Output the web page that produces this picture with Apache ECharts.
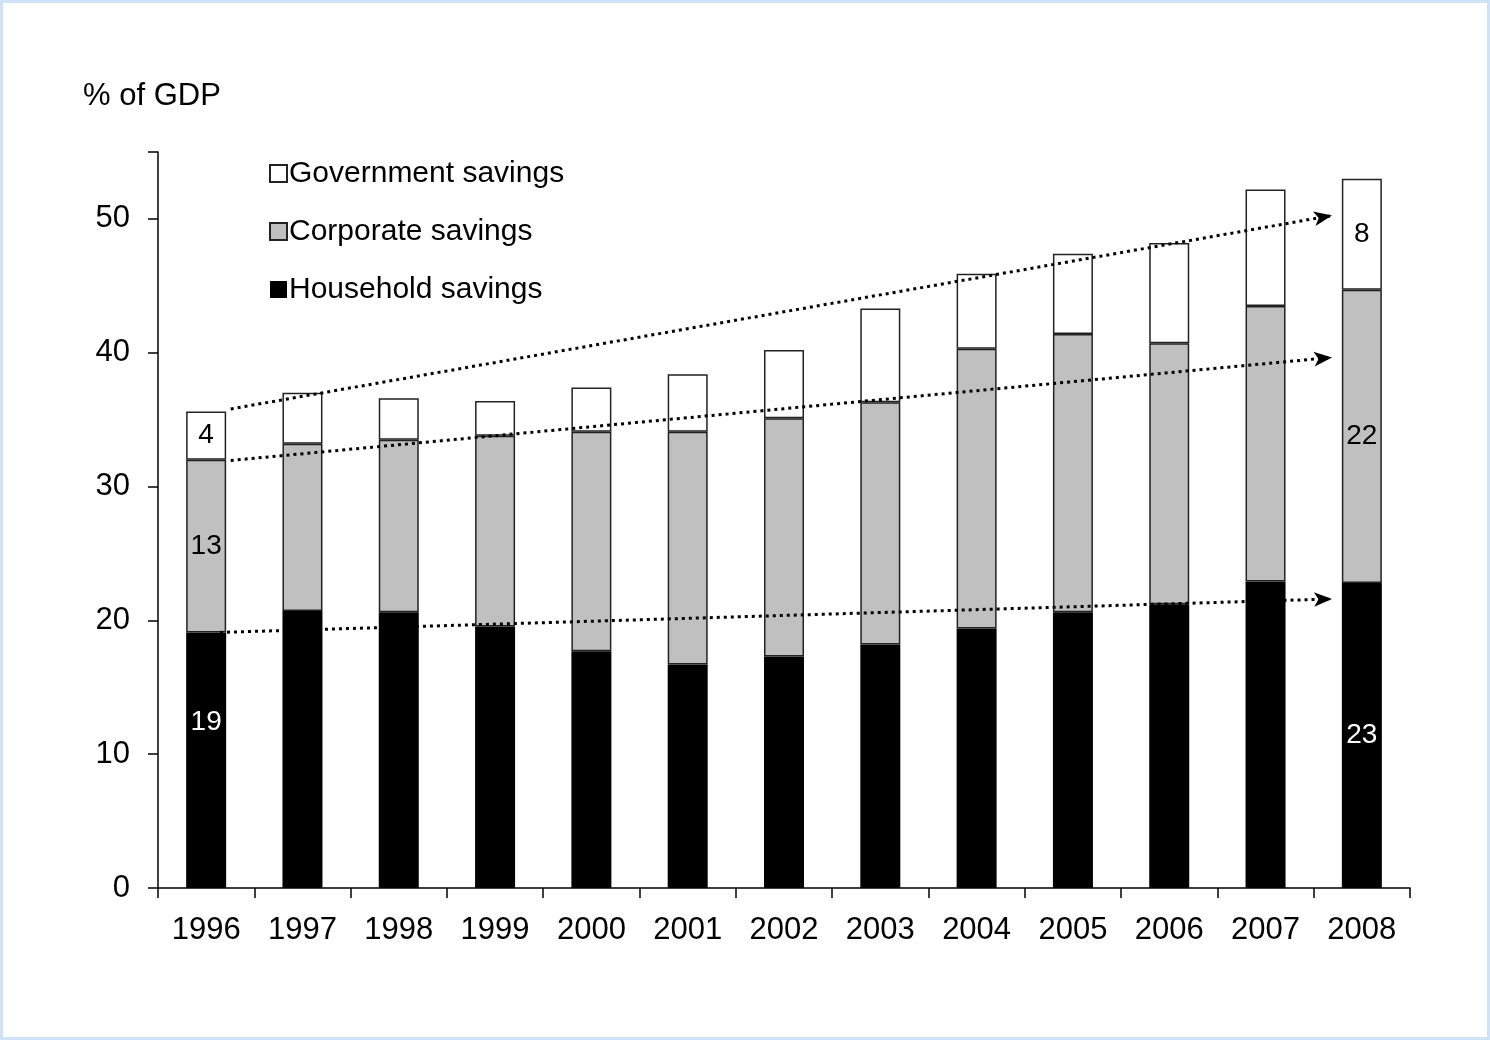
<!DOCTYPE html>
<html>
<head>
<meta charset="utf-8">
<script src="https://cdn.jsdelivr.net/npm/echarts@6/dist/echarts.min.js"></script>
<style>
html,body{margin:0;padding:0;background:#fff;}
#chart{position:absolute;left:0;top:0;width:1490px;height:1040px;}
#frame{position:absolute;left:0;top:0;width:1490px;height:1040px;box-sizing:border-box;border:3px solid #cfe2f8;pointer-events:none;}
</style>
</head>
<body>
<div id="chart"></div>
<div id="frame"></div>
<script>
const years = ['1996','1997','1998','1999','2000','2001','2002','2003','2004','2005','2006','2007','2008'];
const household = [19.1, 20.7, 20.6, 19.55, 17.7, 16.7, 17.3, 18.2, 19.4, 20.6, 21.2, 22.9, 22.8];
const corporate = [12.9, 12.5, 12.9, 14.25, 16.4, 17.4, 17.8, 18.1, 20.9, 20.8, 19.5, 20.6, 21.9];
const government = [3.6, 3.8, 3.1, 2.6, 3.3, 4.3, 5.1, 7.0, 5.6, 6.0, 7.5, 8.7, 8.3];
const yTicks = [0, 10, 20, 30, 40, 50];
// trend arrows: [xStart(category position), yStart, xEnd, yEnd]
const trendGov = [0.255, 35.8, 11.69, 50.25];
const trendCorp = [0.255, 31.95, 11.69, 39.65];
const trendHouse = [0.144, 19.1, 11.69, 21.6];
const labelledIdx = [0, 12];

const FONT = 'Liberation Sans, Arial, sans-serif';
const chart = echarts.init(document.getElementById('chart'));

function withLabels(arr, color, offsetFirst) {
  return arr.map((v, i) => {
    if (labelledIdx.indexOf(i) < 0) return { value: v };
    const lbl = { show: true, position: 'inside', color: color, fontSize: 28, fontFamily: FONT,
      formatter: p => String(Math.round(p.value)) };
    if (offsetFirst && i === 0) lbl.offset = offsetFirst;
    return { value: v, label: lbl };
  });
}

function trendLine(t) {
  return [{ coord: [t[0], t[1]], symbol: 'none' }, { coord: [t[2], t[3]], symbol: 'arrow' }];
}

chart.setOption({
  animation: false,
  backgroundColor: '#fff',
  title: { text: '% of GDP', left: 78, top: 76, textStyle: { fontFamily: FONT, fontSize: 31, fontWeight: 'normal', color: '#000' } },
  legend: {
    orient: 'vertical', left: 264, top: 153, itemWidth: 17, itemHeight: 17, itemGap: 27, icon: 'rect',
    data: ['Government savings', 'Corporate savings', 'Household savings'],
    textStyle: { fontFamily: FONT, fontSize: 30, color: '#000', lineHeight: 31, padding: [0, 0, 0, -3] },
    selectedMode: false
  },
  grid: { left: 158, right: 80, top: 152, bottom: 152 },
  xAxis: [{
    type: 'category', data: years, boundaryGap: true,
    axisLine: { lineStyle: { color: '#000', width: 1.5 } },
    axisTick: { show: true, length: 10, lineStyle: { color: '#000', width: 1.5 } },
    axisLabel: { color: '#000', fontFamily: FONT, fontSize: 31, margin: 27 }
  }, {
    type: 'value', min: -0.5, max: 12.5, show: false
  }],
  yAxis: {
    type: 'value', min: 0, max: 55, interval: 10,
    axisLine: { show: true, onZero: false, lineStyle: { color: '#000', width: 1.5 } },
    axisTick: { show: true, length: 10, lineStyle: { color: '#000', width: 1.5 } },
    splitLine: { show: false },
    axisLabel: { color: '#000', fontFamily: FONT, fontSize: 31, margin: 28,
      formatter: v => (yTicks.indexOf(v) >= 0 ? String(v) : '') }
  },
  series: [
    { name: 'Household savings', type: 'bar', stack: 's', barWidth: 40,
      itemStyle: { color: '#000', borderWidth: 0 },
      data: withLabels(household, '#fff', [0, -38]) },
    { name: 'Corporate savings', type: 'bar', stack: 's', barWidth: 40,
      itemStyle: { color: '#c0c0c0', borderColor: '#222', borderWidth: 1.5 },
      data: withLabels(corporate, '#000') },
    { name: 'Government savings', type: 'bar', stack: 's', barWidth: 40,
      itemStyle: { color: '#fff', borderColor: '#222', borderWidth: 1.5 },
      data: withLabels(government, '#000') },
    { name: 'trend', type: 'line', xAxisIndex: 1, yAxisIndex: 0, data: [],
      silent: true, showSymbol: false,
      markLine: {
        silent: true, animation: false,
        symbolSize: [11, 18],
        label: { show: false },
        lineStyle: { color: '#000', width: 3, type: [3, 4] },
        itemStyle: { color: '#000' },
        emphasis: { disabled: true },
        data: [trendLine(trendGov), trendLine(trendCorp), trendLine(trendHouse)]
      } }
  ]
});
</script>
</body>
</html>
